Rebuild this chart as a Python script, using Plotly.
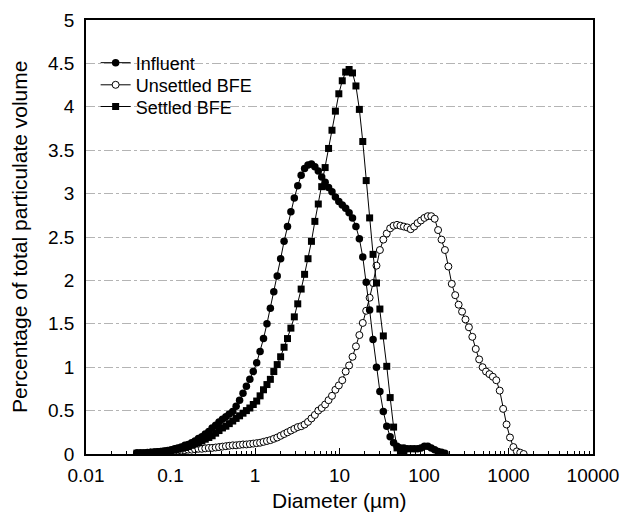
import plotly.graph_objects as go

# Particle size classes (µm)
diameter_um = [
    0.040, 0.044, 0.048, 0.053, 0.058, 0.064, 0.070, 0.077, 0.084, 0.093,
    0.102, 0.112, 0.122, 0.134, 0.148, 0.162, 0.178, 0.195, 0.214, 0.235,
    0.258, 0.284, 0.311, 0.342, 0.375, 0.412, 0.452, 0.496, 0.545, 0.598,
    0.657, 0.721, 0.791, 0.869, 0.954, 1.047, 1.149, 1.261, 1.385, 1.520,
    1.669, 1.832, 2.011, 2.208, 2.423, 2.660, 2.920, 3.206, 3.519, 3.862,
    4.241, 4.656, 5.111, 5.611, 6.159, 6.761, 7.422, 8.148, 8.944, 9.819,
    10.78, 11.83, 12.99, 14.26, 15.65, 17.18, 18.86, 20.70, 22.73, 24.95,
    27.39, 30.07, 33.01, 36.24, 39.78, 43.67, 47.94, 52.62, 57.77, 63.41,
    69.61, 76.42, 83.89, 92.09, 101.1, 111.0, 121.8, 133.7, 146.8, 161.2,
    176.9, 194.2, 213.2, 234.1, 256.9, 282.1, 309.6, 339.9, 373.1, 409.6,
    449.7, 493.6, 541.9, 594.9, 653.0, 716.9, 786.9, 863.9, 948.3, 1041,
    1143, 1255, 1377, 1512, 1660, 1822, 2000,
]

influent = [
    0.01, 0.01, 0.01, 0.015, 0.02, 0.02, 0.025, 0.03, 0.035, 0.04,
    0.05, 0.06, 0.07, 0.08, 0.10, 0.11, 0.13, 0.15, 0.18, 0.20,
    0.23, 0.26, 0.30, 0.33, 0.37, 0.40, 0.43, 0.46, 0.49, 0.55,
    0.62, 0.70, 0.78, 0.86, 0.95, 1.05, 1.18, 1.33, 1.50, 1.68,
    1.87, 2.05, 2.25, 2.45, 2.62, 2.79, 2.95, 3.09, 3.21, 3.29,
    3.33, 3.34, 3.31, 3.26, 3.19, 3.13, 3.07, 3.02, 2.96, 2.91,
    2.87, 2.83, 2.78, 2.72, 2.62, 2.48, 2.27, 1.98, 1.66, 1.32,
    1.00, 0.72, 0.49, 0.32, 0.20, 0.13, 0.09, 0.07, 0.07, 0.06,
    0.06, 0.06, 0.06, 0.07, 0.09, 0.09, 0.07, 0.05, 0.03, 0.02,
    0.01,
]

unsettled_bfe = [
    0.01, 0.01, 0.01, 0.015, 0.015, 0.02, 0.02, 0.025, 0.025, 0.03,
    0.03, 0.035, 0.04, 0.04, 0.045, 0.05, 0.05, 0.055, 0.06, 0.06,
    0.065, 0.07, 0.07, 0.075, 0.08, 0.085, 0.09, 0.095, 0.10, 0.10,
    0.105, 0.11, 0.11, 0.115, 0.12, 0.125, 0.13, 0.14, 0.15, 0.16,
    0.175, 0.19, 0.21, 0.23, 0.25, 0.27, 0.29, 0.31, 0.32, 0.34,
    0.37, 0.41, 0.45, 0.50, 0.53, 0.57, 0.62, 0.67, 0.74, 0.79,
    0.85, 0.95, 1.02, 1.12, 1.24, 1.37, 1.51, 1.65, 1.80, 1.97,
    2.17, 2.35, 2.47, 2.54, 2.60, 2.63, 2.64, 2.63, 2.62, 2.61,
    2.59, 2.62, 2.66, 2.69, 2.72, 2.74, 2.74, 2.71, 2.58, 2.47,
    2.35, 2.16, 1.96, 1.83, 1.72, 1.64, 1.55, 1.46, 1.35, 1.21,
    1.09, 1.00, 0.95, 0.92, 0.89, 0.85, 0.73, 0.52, 0.34, 0.19,
    0.08, 0.03, 0.015, 0.0,
]

settled_bfe = [
    0.01, 0.01, 0.01, 0.01, 0.015, 0.02, 0.02, 0.025, 0.03, 0.035,
    0.04, 0.05, 0.055, 0.065, 0.075, 0.085, 0.10, 0.115, 0.13, 0.15,
    0.17, 0.19, 0.21, 0.24, 0.27, 0.30, 0.32, 0.35, 0.38, 0.41,
    0.44, 0.47, 0.50, 0.53, 0.57, 0.61, 0.67, 0.74, 0.80, 0.86,
    0.95, 1.03, 1.12, 1.23, 1.33, 1.45, 1.58, 1.73, 1.90, 2.07,
    2.25, 2.45, 2.68, 2.88, 3.08, 3.30, 3.52, 3.73, 3.95, 4.15,
    4.30, 4.40, 4.43, 4.39, 4.24, 3.97, 3.60, 3.15, 2.72, 2.30,
    1.97, 1.67, 1.36, 1.01, 0.65, 0.31, 0.07, 0.01, 0.0,
]

x_tick_vals = [0.01, 0.1, 1, 10, 100, 1000, 10000]
x_tick_text = ["0.01", "0.1", "1", "10", "100", "1000", "10000"]
y_tick_vals = [0, 0.5, 1, 1.5, 2, 2.5, 3, 3.5, 4, 4.5, 5]
y_tick_text = ["0", "0.5", "1", "1.5", "2", "2.5", "3", "3.5", "4", "4.5", "5"]
x_minor_vals = [k * 10 ** e for e in range(-2, 4) for k in range(2, 10)]

x_title = "Diameter (µm)"
y_title = "Percentage of total particulate volume"

FONT = "Liberation Sans, Arial, Helvetica, sans-serif"

fig = go.Figure()
fig.add_trace(go.Scatter(
    x=diameter_um[:len(unsettled_bfe)], y=unsettled_bfe, name="Unsettled BFE",
    mode="lines+markers", legend="legend2",
    line=dict(color="black", width=1),
    marker=dict(symbol="circle", size=7, color="white", line=dict(color="black", width=1)),
))
fig.add_trace(go.Scatter(
    x=diameter_um[:len(influent)], y=influent, name="Influent",
    mode="lines+markers", legend="legend",
    line=dict(color="black", width=1),
    marker=dict(symbol="circle", size=7.5, color="black", line=dict(color="black", width=0)),
))
fig.add_trace(go.Scatter(
    x=diameter_um[:len(settled_bfe)], y=settled_bfe, name="Settled BFE",
    mode="lines+markers", legend="legend3",
    line=dict(color="black", width=1),
    marker=dict(symbol="square", size=7, color="black", line=dict(color="black", width=0)),
))

legend_common = dict(
    xanchor="left", yanchor="middle", bgcolor="rgba(0,0,0,0)", borderwidth=0,
    font=dict(family=FONT, size=18, color="black"), itemwidth=30,
)

fig.update_layout(
    width=623, height=516,
    margin=dict(l=86, r=30, t=20, b=62, autoexpand=False),
    paper_bgcolor="white", plot_bgcolor="white",
    font=dict(family=FONT, size=19, color="black"),
    showlegend=True,
    legend=dict(x=0.019, y=0.901, **legend_common),
    legend2=dict(x=0.019, y=0.850, **legend_common),
    legend3=dict(x=0.019, y=0.800, **legend_common),
    annotations=[
        dict(text=x_title, xref="paper", yref="paper", x=0.5, y=-0.108,
             xanchor="center", yanchor="middle", showarrow=False,
             font=dict(family=FONT, size=21, color="black")),
        dict(text=y_title, xref="paper", yref="paper", x=-0.132, y=0.5,
             xanchor="center", yanchor="middle", showarrow=False, textangle=-90,
             font=dict(family=FONT, size=21, color="black")),
    ],
)

fig.update_xaxes(
    type="log", range=[-2, 4], automargin=False,
    tickmode="array", tickvals=x_tick_vals, ticktext=x_tick_text,
    ticks="inside", ticklen=6, tickwidth=1, tickcolor="black",
    ticklabelstandoff=3,
    minor=dict(tickmode="array", tickvals=x_minor_vals, ticks="inside",
               ticklen=3, tickwidth=1, tickcolor="black", showgrid=False),
    showgrid=False, zeroline=False,
    showline=True, linecolor="black", linewidth=1.5, mirror=True,
)
fig.update_yaxes(
    range=[0, 5], automargin=False,
    tickmode="array", tickvals=y_tick_vals, ticktext=y_tick_text,
    ticks="", ticklabelstandoff=6,
    showgrid=True, gridcolor="#b4b4b4", gridwidth=1, griddash="dashdot",
    zeroline=False,
    showline=True, linecolor="black", linewidth=1.5, mirror=True,
)

fig.write_html("out.html", config={"displayModeBar": False},
               post_script="document.body.style.margin='0px';")
